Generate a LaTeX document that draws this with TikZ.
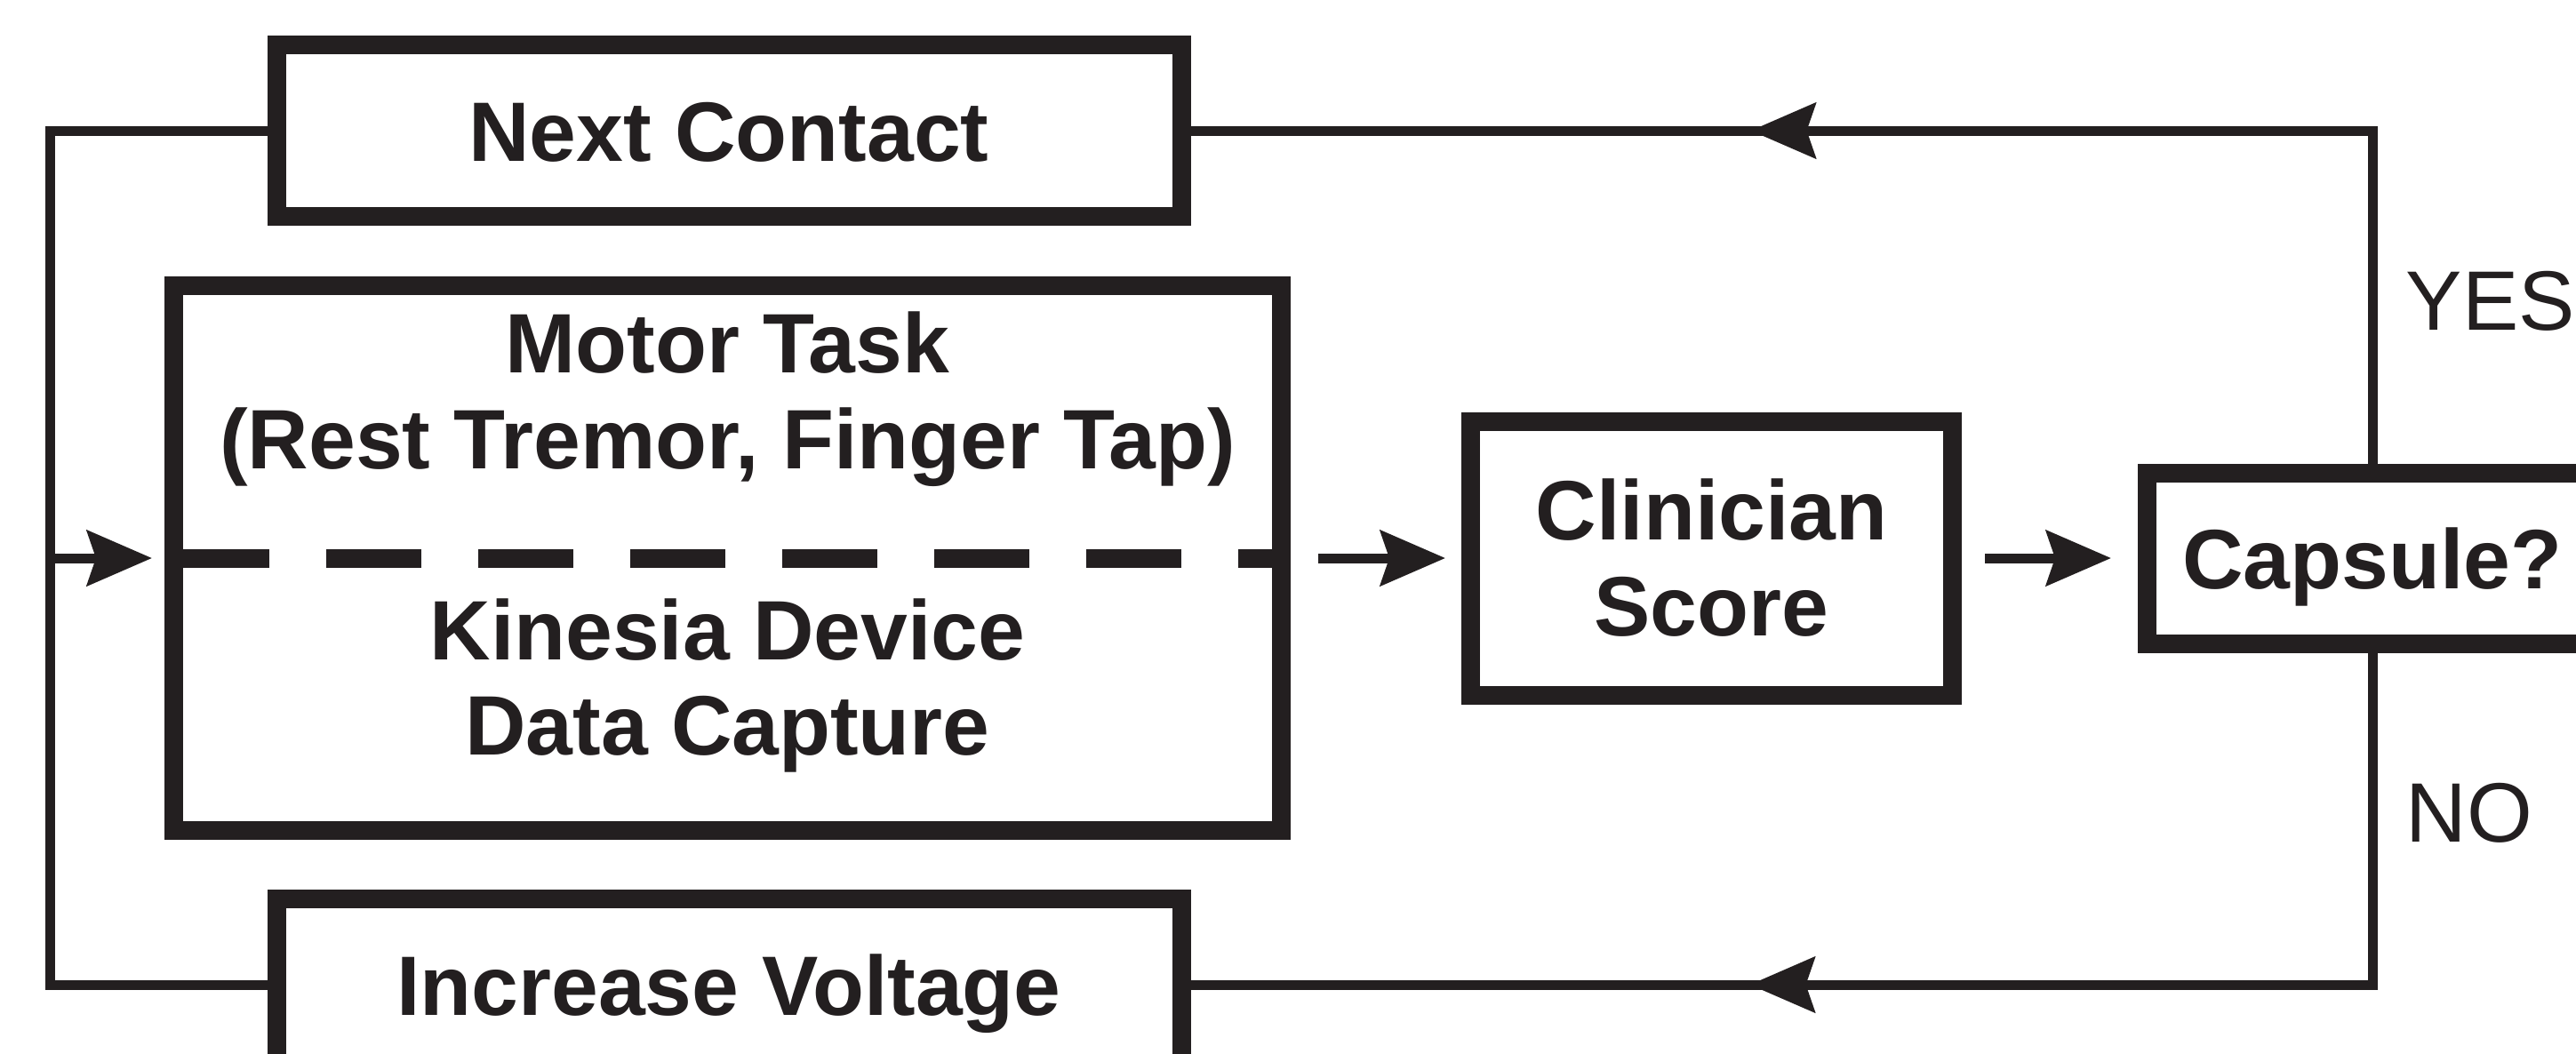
\documentclass[tikz,border=0pt]{standalone}
\usepackage{fontspec}
\setmainfont{Liberation Sans}
\usetikzlibrary{arrows.meta,decorations.markings}
\definecolor{ink}{HTML}{231F20}

\begin{document}
\begin{tikzpicture}[color=ink,
		font=\fontsize{27pt}{30.7pt}\selectfont\bfseries,
		>={Stealth[length=7.3mm,width=6.2mm,inset=1mm]},
		oneline/.style={text height=6.8mm,text depth=0pt},
		midtip/.style={postaction={decorate},decoration={markings,mark=at position #1 with {\arrow{>}}}}]
	\useasboundingbox (0,0) rectangle (28.98,11.85);
	
	\begin{scope}[every node/.style={rectangle,draw,line width=2.1mm,inner sep=0pt}]
		\node[oneline,minimum width=101.8mm,minimum height=19.3mm] (next) at (8.2,10.38) {Next Contact};
		\node[minimum width=124.6mm,minimum height=61.3mm] (task) at (8.185,5.57) {};
		\node[oneline,minimum width=101.8mm,minimum height=19.3mm] (volt) at (8.2,0.77) {Increase Voltage};
		\node[align=center,minimum width=54.2mm,minimum height=30.8mm] (score) at (19.255,5.57) {Clinician\\Score};
		\node[oneline,minimum width=50.7mm,minimum height=19.2mm] (caps) at (26.69,5.57) {Capsule?};
	\end{scope}
	
	% the two halves of the task box
	\node[align=center,inner sep=0pt] (motor) at (8.185,7.36) {Motor Task\\(Rest Tremor, Finger Tap)};
	\node[align=center,inner sep=0pt] (kinesia) at (8.185,4.135) {Kinesia Device\\Data Capture};
	\draw[line width=2.1mm,dash pattern=on 10.7mm off 6.4mm,dash phase=16mm] (task.west) -- (task.east);
	
	\begin{scope}[line width=1.1mm]
		\coordinate (back) at (0.56,5.57);
		\draw (next.west) -| (back) |- (volt.west);
		\draw[midtip=10.74cm] (caps.north) |- (next.east);
		\draw[midtip=10.74cm] (caps.south) |- (volt.east);
	\end{scope}
	
	\begin{scope}[every edge/.style={draw=ink,line width=1.1mm}]
		\path [->] (back) edge [shorten >=1.4mm] (task.west);
		\path [->] (task.east) edge [shorten <=3.1mm,shorten >=1.8mm] (score.west);
		\path [->] (score.east) edge [shorten <=2.6mm,shorten >=3mm] (caps.west);
	\end{scope}
	
	\node[font=\fontsize{27pt}{30.7pt}\selectfont,anchor=base west,inner sep=0pt] (yes) at (27.06,8.14) {YES};
	\node[font=\fontsize{27pt}{30.7pt}\selectfont,anchor=base west,inner sep=0pt] (no) at (27.06,2.38) {NO};
\end{tikzpicture}
\end{document}
